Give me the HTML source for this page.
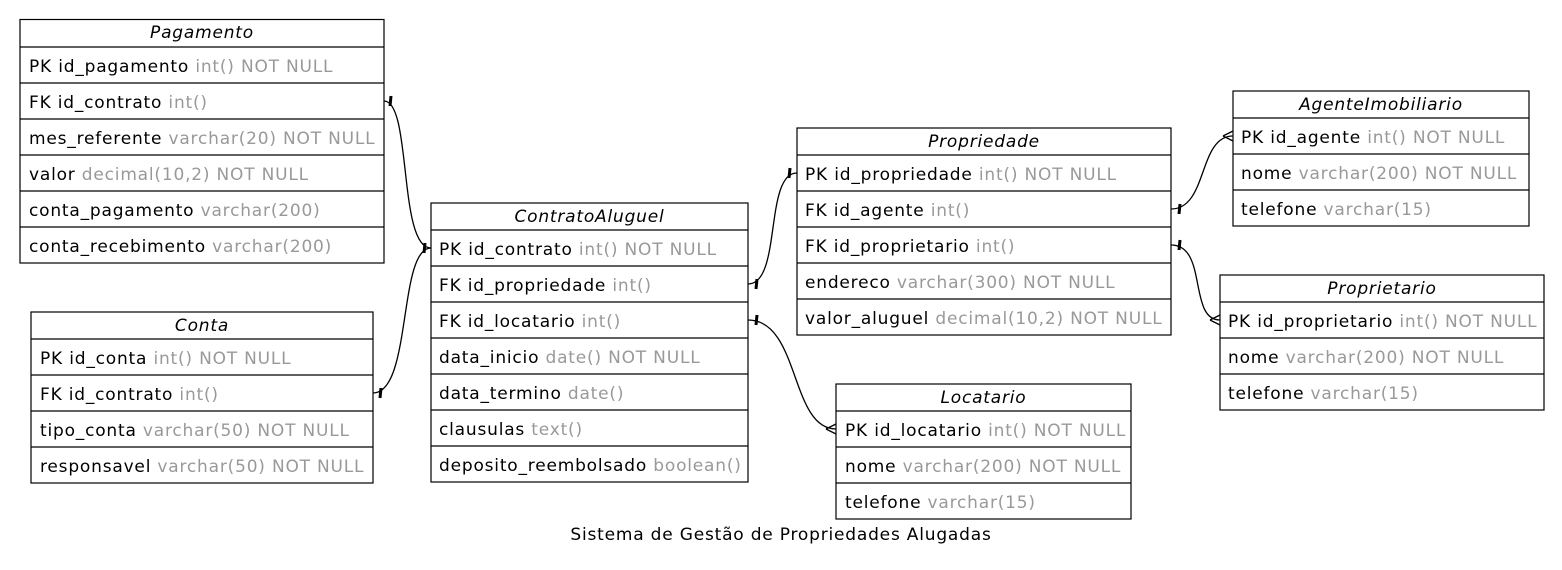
<!DOCTYPE html>
<html><head><meta charset="utf-8"><style>
html,body{margin:0;padding:0;background:#fff;}
svg{display:block;}
text{font-family:"DejaVu Sans","Liberation Sans",sans-serif;font-size:17px;letter-spacing:0.8px;}
.t{font-style:italic;}
.g{fill:#999;}
</style></head><body>
<svg width="1562" height="570" viewBox="0 0 1562 570" xmlns="http://www.w3.org/2000/svg">
<g fill="none" stroke="#000" stroke-width="1.2">
<rect x="20" y="19.5" width="364" height="243.5"/>
<path d="M20 47H384M20 83H384M20 119H384M20 155H384M20 191H384M20 227H384"/>
<rect x="31" y="312" width="342" height="171"/>
<path d="M31 339H373M31 375H373M31 411H373M31 447H373"/>
<rect x="431" y="203" width="317" height="279"/>
<path d="M431 230H748M431 266H748M431 302H748M431 338H748M431 374H748M431 410H748M431 446H748"/>
<rect x="797" y="128" width="374" height="207"/>
<path d="M797 155H1171M797 191H1171M797 227H1171M797 263H1171M797 299H1171"/>
<rect x="836" y="384" width="295" height="135"/>
<path d="M836 411H1131M836 447H1131M836 483H1131"/>
<rect x="1233" y="91" width="296" height="135"/>
<path d="M1233 118H1529M1233 154H1529M1233 190H1529"/>
<rect x="1220" y="275" width="324" height="135"/>
<path d="M1220 302H1544M1220 338H1544M1220 374H1544"/>
</g>
<g fill="none" stroke="#000" stroke-width="1.3">
<path d="M384,101 C412,101 398,248 431,248"/>
<path d="M373,393 C412,393 398,248 431,248"/>
<path d="M748,284 C782,284 764,173 797,173"/>
<path d="M748,320 C800,320 790,429 836,429"/>
<path d="M1171,209 C1208,209 1198,136 1233,136"/>
<path d="M1171,245 C1208,245 1188,320 1220,320"/>
<path d="M826,429 L836,424 M826,429 L836,434"/>
<path d="M1223,136 L1233,131 M1223,136 L1233,141"/>
<path d="M1210,320 L1220,315 M1210,320 L1220,325"/>
</g>
<g stroke="#000" stroke-width="3">
<path d="M391,96 L390,106"/>
<path d="M425,243 L424,253"/>
<path d="M381,388 L380,398"/>
<path d="M757,279 L756,289"/>
<path d="M790,168 L789,178"/>
<path d="M757,315 L756,325"/>
<path d="M1180,204 L1179,214"/>
<path d="M1180,240 L1179,250"/>
</g>
<text class="t" x="202" y="38" text-anchor="middle">Pagamento</text>
<text x="29" y="72">PK id_pagamento <tspan class="g">int() NOT NULL</tspan></text>
<text x="29" y="108">FK id_contrato <tspan class="g">int()</tspan></text>
<text x="29" y="144">mes_referente <tspan class="g">varchar(20) NOT NULL</tspan></text>
<text x="29" y="180">valor <tspan class="g">decimal(10,2) NOT NULL</tspan></text>
<text x="29" y="216">conta_pagamento <tspan class="g">varchar(200)</tspan></text>
<text x="29" y="252">conta_recebimento <tspan class="g">varchar(200)</tspan></text>

<text class="t" x="202" y="331" text-anchor="middle">Conta</text>
<text x="40" y="364">PK id_conta <tspan class="g">int() NOT NULL</tspan></text>
<text x="40" y="400">FK id_contrato <tspan class="g">int()</tspan></text>
<text x="40" y="436">tipo_conta <tspan class="g">varchar(50) NOT NULL</tspan></text>
<text x="40" y="472">responsavel <tspan class="g">varchar(50) NOT NULL</tspan></text>

<text class="t" x="589.5" y="222" text-anchor="middle">ContratoAluguel</text>
<text x="439" y="255">PK id_contrato <tspan class="g">int() NOT NULL</tspan></text>
<text x="439" y="291">FK id_propriedade <tspan class="g">int()</tspan></text>
<text x="439" y="327">FK id_locatario <tspan class="g">int()</tspan></text>
<text x="439" y="363">data_inicio <tspan class="g">date() NOT NULL</tspan></text>
<text x="439" y="399">data_termino <tspan class="g">date()</tspan></text>
<text x="439" y="435">clausulas <tspan class="g">text()</tspan></text>
<text x="439" y="471">deposito_reembolsado <tspan class="g">boolean()</tspan></text>

<text class="t" x="984" y="147" text-anchor="middle">Propriedade</text>
<text x="805" y="180">PK id_propriedade <tspan class="g">int() NOT NULL</tspan></text>
<text x="805" y="216">FK id_agente <tspan class="g">int()</tspan></text>
<text x="805" y="252">FK id_proprietario <tspan class="g">int()</tspan></text>
<text x="805" y="288">endereco <tspan class="g">varchar(300) NOT NULL</tspan></text>
<text x="805" y="324">valor_aluguel <tspan class="g">decimal(10,2) NOT NULL</tspan></text>

<text class="t" x="983.5" y="403" text-anchor="middle">Locatario</text>
<text x="845" y="436">PK id_locatario <tspan class="g">int() NOT NULL</tspan></text>
<text x="845" y="472">nome <tspan class="g">varchar(200) NOT NULL</tspan></text>
<text x="845" y="508">telefone <tspan class="g">varchar(15)</tspan></text>

<text class="t" x="1381" y="110" text-anchor="middle">AgenteImobiliario</text>
<text x="1241" y="143">PK id_agente <tspan class="g">int() NOT NULL</tspan></text>
<text x="1241" y="179">nome <tspan class="g">varchar(200) NOT NULL</tspan></text>
<text x="1241" y="215">telefone <tspan class="g">varchar(15)</tspan></text>

<text class="t" x="1382" y="294" text-anchor="middle">Proprietario</text>
<text x="1228" y="327">PK id_proprietario <tspan class="g">int() NOT NULL</tspan></text>
<text x="1228" y="363">nome <tspan class="g">varchar(200) NOT NULL</tspan></text>
<text x="1228" y="399">telefone <tspan class="g">varchar(15)</tspan></text>

<text x="781" y="540" text-anchor="middle">Sistema de Gestão de Propriedades Alugadas</text>
</svg>
</body></html>
